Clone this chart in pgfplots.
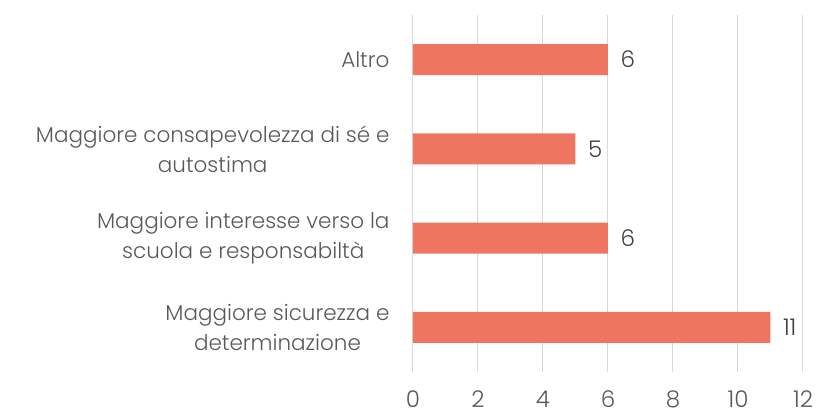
\documentclass[border=0pt]{standalone}
\usepackage{fontspec}
\setmainfont{Poppins Light}
\usepackage{pgfplots}
\pgfplotsset{compat=1.18}
\definecolor{barcol}{RGB}{238,118,97}
\definecolor{txt}{RGB}{89,89,89}
\definecolor{gridc}{RGB}{217,217,217}
\begin{document}
\begin{tikzpicture}
\begin{axis}[
  width=390pt, height=357pt,
  scale only axis,
  xbar, bar width=31pt,
  xmin=0, xmax=12,
  ymin=-0.5, ymax=3.5,
  xtick={0,2,4,6,8,10,12},
  ytick={0,1,2,3},
  yticklabels={{Maggiore sicurezza e\\determinazione},
               {Maggiore interesse verso la\\scuola e responsabiltà},
               {Maggiore consapevolezza di sé e\\autostima},
               {Altro}},
  yticklabel style={align=center, font=\fontsize{21.5}{30}\selectfont, text=txt, xshift=-20pt},
  xticklabel style={font=\fontsize{23}{26}\selectfont, text=txt, anchor=base, yshift=-36pt},
  /pgf/number format/assume math mode=true,
  major tick length=0pt,
  axis line style={draw=none},
  xmajorgrids=true,
  grid style={line width=1pt, draw=gridc},
  nodes near coords,
  every node near coord/.append style={font=\fontsize{23}{26}\selectfont, text=black!75, anchor=west, xshift=9pt},
  clip=false,
]
\addplot[fill=barcol, draw=none, bar shift=0pt] coordinates {
  (11,0) (6,1) (5,2) (6,3)};
\path (rel axis cs:-1.059,-0.132) coordinate (bl)
      (rel axis cs:1.0513,1.042) coordinate (tr);
\end{axis}
\useasboundingbox (bl) rectangle (tr);
\end{tikzpicture}
\end{document}
